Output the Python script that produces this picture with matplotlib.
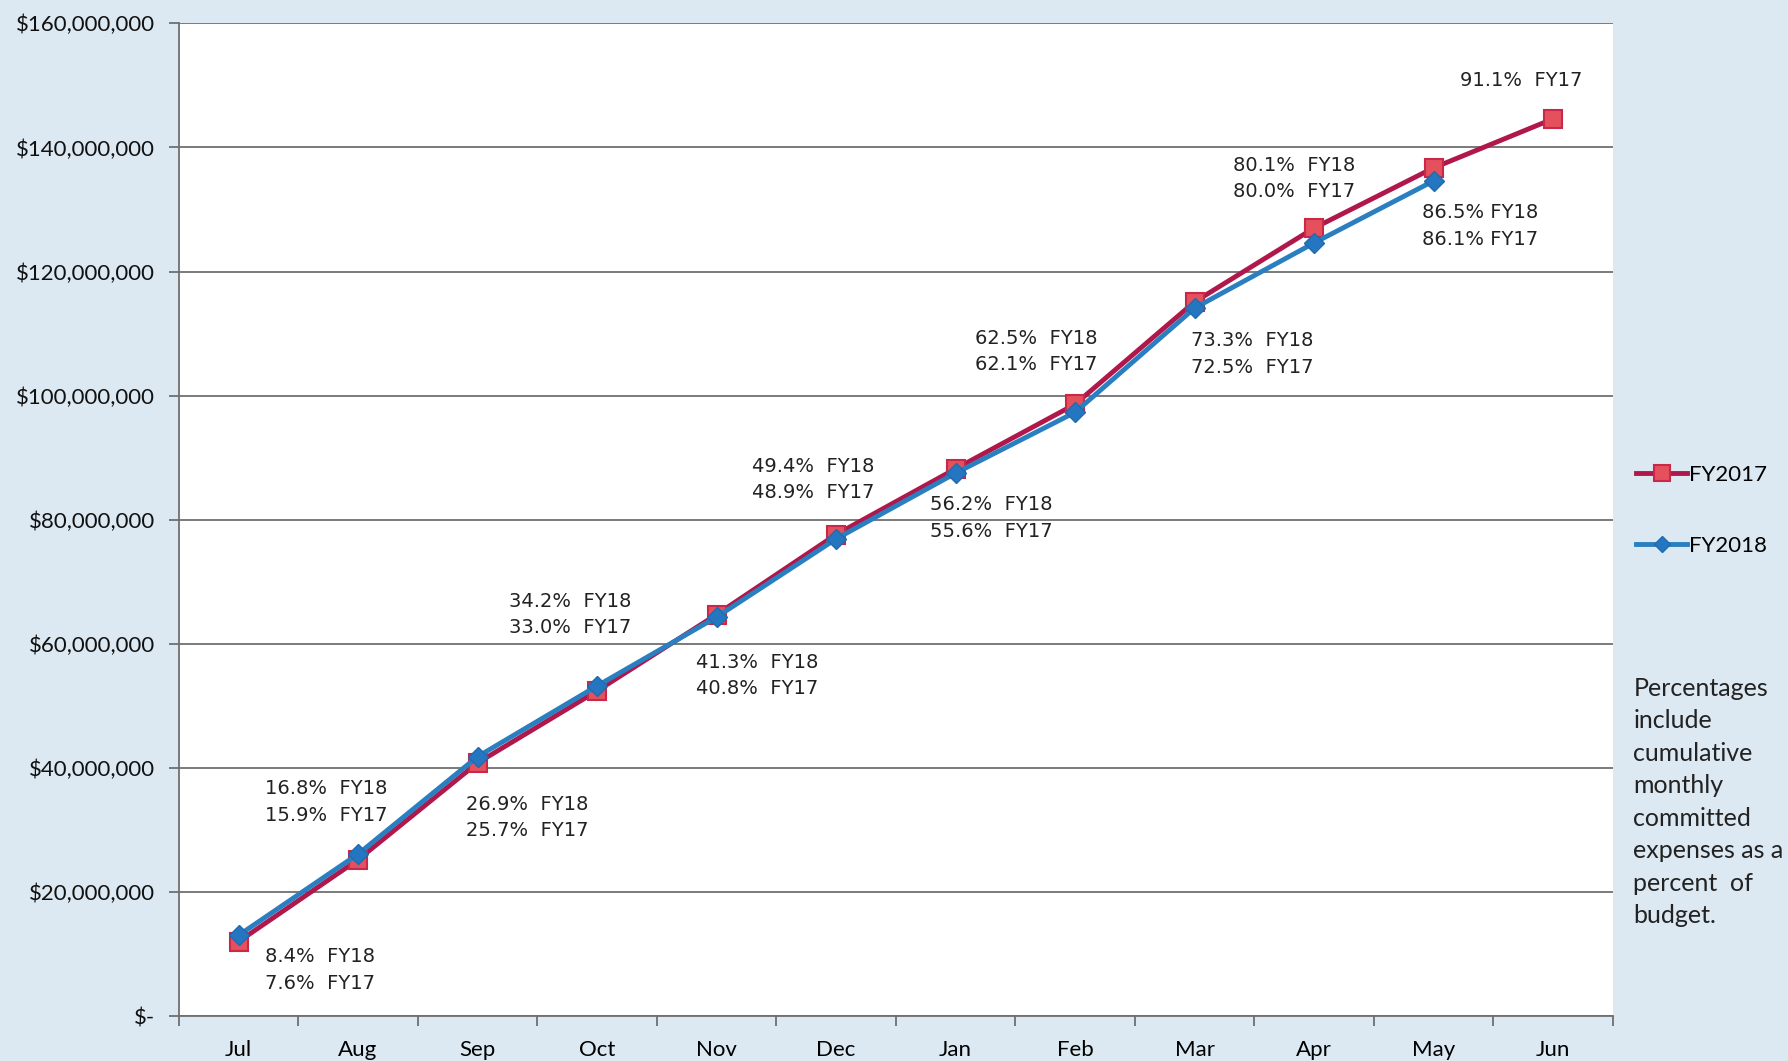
import matplotlib.pyplot as plt
from matplotlib.ticker import FuncFormatter, MultipleLocator

months = ['Jul', 'Aug', 'Sep', 'Oct', 'Nov', 'Dec', 'Jan', 'Feb', 'Mar', 'Apr', 'May', 'Jun']

# cumulative committed expenses
fy2017 = [12.0e6, 25.2e6, 40.8e6, 52.4e6, 64.7e6, 77.6e6, 88.2e6, 98.6e6,
          115.1e6, 127.0e6, 136.7e6, 144.6e6]
fy2018 = [13.0e6, 26.1e6, 41.8e6, 53.2e6, 64.3e6, 76.9e6, 87.5e6, 97.3e6,
          114.1e6, 124.6e6, 134.6e6]

labels = ['8.4%  FY18\n7.6%  FY17', '16.8%  FY18\n15.9%  FY17', '26.9%  FY18\n25.7%  FY17',
          '34.2%  FY18\n33.0%  FY17', '41.3%  FY18\n40.8%  FY17', '49.4%  FY18\n48.9%  FY17',
          '56.2%  FY18\n55.6%  FY17', '62.5%  FY18\n62.1%  FY17', '73.3%  FY18\n72.5%  FY17',
          '80.1%  FY18\n80.0%  FY17', '86.5% FY18\n86.1% FY17', '91.1%  FY17']
label_pos = [(0.22, 7.4e6), (0.22, 34.5e6), (1.90, 32.0e6), (2.26, 64.7e6),
             (3.83, 54.9e6), (4.30, 86.5e6), (5.79, 80.3e6), (6.16, 107.1e6),
             (7.97, 106.7e6), (8.32, 135.0e6), (9.90, 127.3e6), (10.22, 150.8e6)]

note = 'Percentages\ninclude\ncumulative\nmonthly\ncommitted\nexpenses as a\npercent  of\nbudget.'

bg = '#dce9f2'
plt.rcParams['font.family'] = ['Lato', 'DejaVu Sans']

fig = plt.figure(figsize=(17.88, 10.61), dpi=100, facecolor=bg)
ax = fig.add_axes([0.100, 0.0424, 0.802, 0.9356])
ax.set_facecolor('white')

x17 = range(len(fy2017))
x18 = range(len(fy2018))
ax.plot(x17, fy2017, color='#b0174a', lw=3.5, marker='s', ms=13,
        mfc='#e4505c', mec='#c8284a', mew=1.5, label='FY2017', zorder=3)
ax.plot(x18, fy2018, color='#2a7fc0', lw=3.5, marker='D', ms=10,
        mfc='#2476c0', mec='#1f6ab0', label='FY2018', zorder=4)

for txt, (px, py) in zip(labels, label_pos):
    ax.text(px, py, txt, fontsize=14, va='center', ha='left', color='#222222',
            family='DejaVu Sans', linespacing=1.5)

ax.set_xlim(-0.5, 11.5)
ax.set_ylim(0, 160e6)
ax.yaxis.set_major_locator(MultipleLocator(20e6))
ax.yaxis.set_major_formatter(FuncFormatter(lambda v, p: '$-' if v == 0 else f'${v:,.0f}'))
ax.grid(axis='y', color='#6f6f6f', lw=1.3)
ax.set_axisbelow(True)

ax.set_xticks(range(12))
ax.set_xticklabels(months)
ax.set_xticks([i - 0.5 for i in range(13)], minor=True)
ax.tick_params(axis='x', which='major', length=0, labelsize=16, pad=17)
ax.tick_params(axis='x', which='minor', length=7, color='#6f6f6f', width=1.3)
ax.tick_params(axis='y', length=7, color='#6f6f6f', width=1.3, labelsize=16, pad=10,
               labelcolor='#111111')

for s in ['top', 'right']:
    ax.spines[s].set_visible(False)
for s in ['left', 'bottom']:
    ax.spines[s].set_color('#6f6f6f')
    ax.spines[s].set_linewidth(1.3)

h, l = ax.get_legend_handles_labels()
fig.legend(h, l, loc='center left', bbox_to_anchor=(0.915, 0.519), frameon=False,
           fontsize=16, handlelength=2.3, handletextpad=0.1, labelspacing=2.3,
           borderaxespad=0, borderpad=0, markerscale=0.85)

fig.text(0.9135, 0.362, note, fontsize=18, va='top', ha='left', color='#222222',
         linespacing=1.5)

fig.savefig('out.png', dpi=100, facecolor=bg)
